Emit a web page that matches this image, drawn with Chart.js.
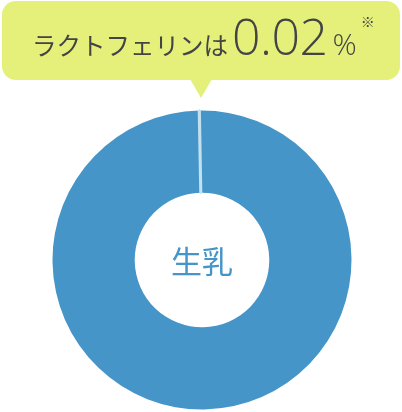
<!DOCTYPE html>
<html><head><meta charset="utf-8">
<script src="https://cdn.jsdelivr.net/npm/chart.js@4"></script>
<style>
html,body{margin:0;padding:0;background:#fff;width:402px;height:412px;overflow:hidden;position:relative;font-family:"Noto Sans CJK JP","Noto Sans",sans-serif}
#c{position:absolute;left:0;top:0}
#bubble{position:absolute;left:2px;top:1px;width:398px;height:79px;background:#e4f07a;border-radius:14px}
#tail{position:absolute;left:190px;top:79px;width:0;height:0;border-left:11px solid transparent;border-right:11px solid transparent;border-top:19px solid #e4f07a}
#label{position:absolute;left:32px;top:11px;white-space:nowrap;color:#444;line-height:1}
#label .jp{font-size:24.5px;letter-spacing:0px;font-family:"Noto Sans CJK JP",sans-serif}
#label .num{font-size:50px;font-weight:300;margin-left:4px;letter-spacing:-0.5px;font-family:"Open Sans","Noto Sans",sans-serif}
#label .pct{font-size:30px;font-weight:300;margin-left:5px;font-family:"Open Sans","Noto Sans",sans-serif}
#label .note{font-size:14px;position:relative;top:-28px;margin-left:4px;font-family:"Noto Sans CJK JP",sans-serif}
#center{position:absolute;left:0;width:404px;top:244px;text-align:center;font-size:31px;color:#4595c9;line-height:1;font-family:"Noto Sans CJK JP",sans-serif}
</style></head>
<body>
<canvas id="c" width="402" height="412"></canvas>
<div id="bubble"></div>
<div id="tail"></div>
<div id="label"><span class="jp">ラクトフェリンは</span><span class="num">0.02</span><span class="pct">%</span><span class="note">※</span></div>
<div id="center">生乳</div>
<script>
const categories = ["生乳", "ラクトフェリン"];
const values = [99.98, 0.02];
const colors = ["#4595c9", "#c3e0ef"];

new Chart(document.getElementById('c'), {
  type: 'doughnut',
  data: {
    labels: categories,
    datasets: [{
      data: values,
      backgroundColor: colors,
      borderColor: colors,
      borderWidth: [0, 3]
    }]
  },
  options: {
    responsive: false,
    animation: false,
    cutout: '45%',
    rotation: -1,
    layout: { padding: { left: 51, right: 49, top: 109, bottom: 1 } },
    plugins: { legend: { display: false }, tooltip: { enabled: false } },
    events: []
  }
});
</script>
</body></html>
